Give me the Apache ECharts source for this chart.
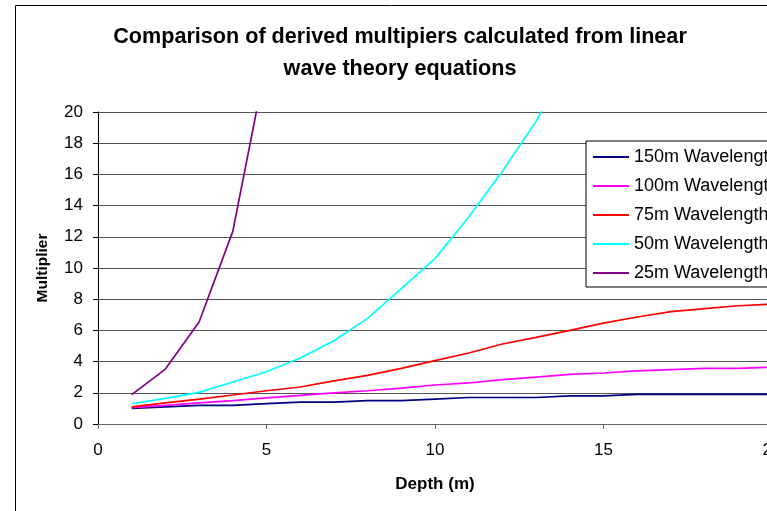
<!DOCTYPE html>
<html>
<head>
<meta charset="utf-8">
<title>Comparison of derived multipiers</title>
<script src="https://cdn.jsdelivr.net/npm/echarts@6/dist/echarts.min.js"></script>
<style>
  html, body { margin: 0; padding: 0; background: #ffffff; }
  #chart { width: 767px; height: 511px; }
</style>
</head>
<body>
<div id="chart"></div>
<script>
// Depth values (m) at which each multiplier was calculated
const depths = [1, 2, 3, 4, 5, 6, 7, 8, 9, 10, 11, 12, 13, 14, 15, 16, 17, 18, 19, 20];

// Derived multipliers per wavelength
const wave150 = [1.0, 1.1, 1.2, 1.2, 1.3, 1.4, 1.4, 1.5, 1.5, 1.6, 1.7, 1.7, 1.7, 1.8, 1.8, 1.9, 1.9, 1.9, 1.9, 1.9];
const wave100 = [1.05, 1.2, 1.35, 1.5, 1.67, 1.83, 1.99, 2.13, 2.3, 2.5, 2.63, 2.84, 3.01, 3.18, 3.27, 3.4, 3.48, 3.56, 3.56, 3.64];
const wave75 = [1.1, 1.35, 1.6, 1.86, 2.13, 2.37, 2.76, 3.12, 3.57, 4.06, 4.55, 5.13, 5.55, 6.0, 6.47, 6.86, 7.2, 7.39, 7.58, 7.68];
const wave50 = [1.3, 1.64, 2.03, 2.69, 3.35, 4.23, 5.34, 6.77, 8.68, 10.6, 13.27, 16.2, 19.4, 23.3];
const wave25 = [1.88, 3.52, 6.54, 12.35, 23.3];

const seriesNames = ['150m Wavelength', '100m Wavelength', '75m Wavelength', '50m Wavelength', '25m Wavelength'];
const seriesValues = [wave150, wave100, wave75, wave50, wave25];
const seriesColors = ['#000080', '#ff00ff', '#ff0000', '#00ffff', '#800080'];

const xTicks = [0, 5, 10, 15, 20];
const yTicks = [0, 2, 4, 6, 8, 10, 12, 14, 16, 18, 20];

const FONT = '"Liberation Sans", Arial, sans-serif';

const chart = echarts.init(document.getElementById('chart'), null, { renderer: 'canvas' });

const series = seriesNames.map((name, i) => ({
  name: name,
  type: 'line',
  data: seriesValues[i].map((v, j) => [depths[j], v]),
  symbol: 'none',
  clip: true,
  animation: false,
  lineStyle: { color: seriesColors[i], width: 1.7 },
  itemStyle: { color: seriesColors[i] }
}));

chart.setOption({
  backgroundColor: '#ffffff',
  animation: false,
  textStyle: { fontFamily: FONT },
  title: {
    text: 'Comparison of derived multipiers calculated from linear\nwave theory equations',
    left: 400,
    top: 21,
    textAlign: 'center',
    padding: 0,
    textStyle: {
      fontFamily: FONT,
      fontSize: 21.6,
      fontWeight: 'bold',
      color: '#000',
      lineHeight: 32
    }
  },
  graphic: [{
    type: 'rect',
    shape: { x: 15.5, y: 5.5, width: 800, height: 600 },
    style: { fill: 'none', stroke: '#000', lineWidth: 1 },
    silent: true,
    z: -1
  }],
  legend: {
    orient: 'vertical',
    left: 586,
    top: 141,
    data: seriesNames,
    backgroundColor: '#ffffff',
    borderColor: '#000',
    borderWidth: 1,
    borderRadius: 0,
    padding: [6, 8, 4, 6],
    itemWidth: 36,
    itemHeight: 20,
    itemGap: 9,
    itemStyle: { opacity: 0 },
    textStyle: { fontFamily: FONT, fontSize: 18, color: '#000', lineHeight: 20 }
  },
  grid: {
    left: 98,
    top: 112,
    width: 674,
    height: 312,
    outerBoundsMode: 'none',
    containLabel: false
  },
  xAxis: {
    type: 'value',
    min: xTicks[0],
    max: xTicks[xTicks.length - 1],
    interval: xTicks[1] - xTicks[0],
    name: 'Depth (m)',
    nameLocation: 'middle',
    nameGap: 52,
    nameTextStyle: { fontFamily: FONT, fontSize: 17, fontWeight: 'bold', color: '#000' },
    axisLine: { show: true, onZero: false, lineStyle: { color: '#666', width: 1 } },
    axisTick: { show: true, length: 5, lineStyle: { color: '#666' } },
    axisLabel: { margin: 18, fontFamily: FONT, fontSize: 17, color: '#000' },
    splitLine: { show: false }
  },
  yAxis: {
    type: 'value',
    min: yTicks[0],
    max: yTicks[yTicks.length - 1],
    interval: yTicks[1] - yTicks[0],
    name: 'Multiplier',
    nameLocation: 'middle',
    nameGap: 47,
    nameRotate: 90,
    nameTextStyle: { fontFamily: FONT, fontSize: 15.5, fontWeight: 'bold', color: '#000' },
    axisLine: { show: true, lineStyle: { color: '#000', width: 1 } },
    axisTick: { show: true, length: 5, lineStyle: { color: '#000' } },
    axisLabel: { margin: 15, fontFamily: FONT, fontSize: 17, color: '#000' },
    splitLine: { show: true, lineStyle: { color: '#555', width: 1 } }
  },
  series: series
});
</script>
</body>
</html>
